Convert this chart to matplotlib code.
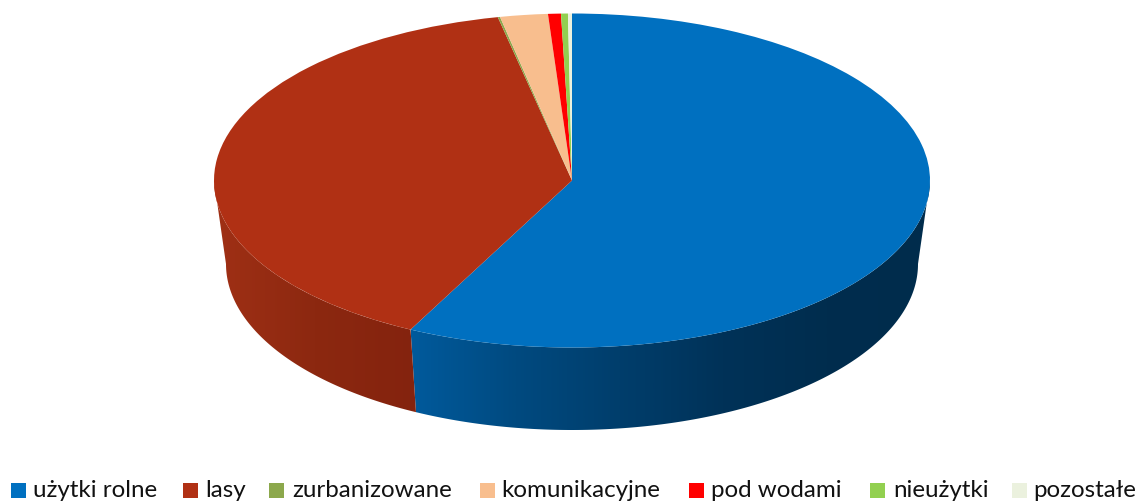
import numpy as np
import matplotlib
matplotlib.use("Agg")
import matplotlib.pyplot as plt
from matplotlib.patches import Rectangle, PathPatch
from matplotlib.path import Path
from matplotlib.colors import LinearSegmentedColormap

categories = ["użytki rolne", "lasy", "zurbanizowane", "komunikacyjne",
              "pod wodami", "nieużytki", "pozostałe"]
values = [57.4, 39.2, 0.1, 2.15, 0.58, 0.31, 0.18]
colors = ["#0070C0", "#B03014", "#8CA84C", "#F8BE8E", "#FF0000", "#92D050", "#EBF1DE"]
red_side = ["#A03015", "#8C2810", "#84230E"]
blue_side = ["#005A9C", "#004A80", "#003E6C", "#003258", "#002D4E", "#002C4C"]
legend_square_x = [11, 183, 269, 480, 689, 870, 1012]
legend_text_x = [33, 205, 292, 501, 711, 893, 1033]

W, H = 1138, 502
cx, cy, rx, ry = 572, 181.5, 358, 167
rxb, cyb, ryb = 346, 265, 166
ylow = -1.8

fig = plt.figure(figsize=(W / 100, H / 100), dpi=100, facecolor="white")
ax = fig.add_axes([(cx - rx) / W, 1 - (cy - ylow * ry) / H, 2 * rx / W, (1 - ylow) * ry / H])
wedges, _ = ax.pie(values, colors=colors, startangle=90, counterclock=False,
                   radius=1, wedgeprops=dict(linewidth=0))
for w in wedges:
    w.set_zorder(5)

fr = np.array(values) / sum(values)
edges = np.concatenate([[0], np.cumsum(fr)]) * 2 * np.pi
bx = rxb / rx
by = ryb / ry
off = (cyb - cy) / ry
for i, stops in [(0, blue_side), (1, red_side)]:
    a0 = max(edges[i], 0.5 * np.pi)
    a1 = min(edges[i + 1], 1.5 * np.pi)
    t = np.linspace(a0, a1, 300)
    top = np.column_stack([np.sin(t), np.cos(t)])
    bot = np.column_stack([bx * np.sin(t), by * np.cos(t) - off])[::-1]
    verts = np.vstack([top, bot, top[:1]])
    path = Path(verts, closed=True)
    xmin, xmax = verts[:, 0].min(), verts[:, 0].max()
    cmap = LinearSegmentedColormap.from_list("s", stops)
    im = ax.imshow(np.linspace(0, 1, 512)[None, :], cmap=cmap, aspect="auto",
                   extent=[xmin, xmax, ylow, 1], zorder=2, interpolation="bilinear")
    patch = PathPatch(path, transform=ax.transData, facecolor="none", edgecolor="none")
    ax.add_patch(patch)
    im.set_clip_path(patch)

ax.set_aspect("auto")
ax.set_xlim(-1, 1)
ax.set_ylim(ylow, 1)

lax = fig.add_axes([0, 0, 1, 1], facecolor="none")
lax.set_xlim(0, W)
lax.set_ylim(H, 0)
lax.axis("off")
for name, col, sx, tx in zip(categories, colors, legend_square_x, legend_text_x):
    lax.add_patch(Rectangle((sx, 484), 15, 15, facecolor=col, edgecolor="none"))
    lax.text(tx, 491, name, fontsize=17.4, family="Lato", color="#111111", va="center", ha="left")

fig.savefig("out.png", dpi=100)
